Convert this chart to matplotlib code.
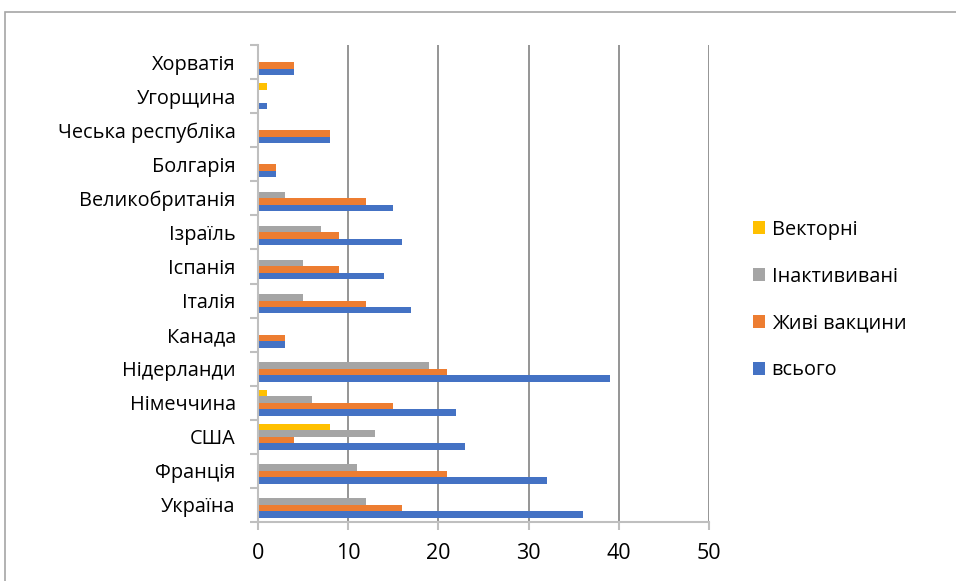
import matplotlib.pyplot as plt
import numpy as np
from matplotlib.patches import Rectangle

countries = ["Україна", "Франція", "США", "Німеччина", "Нідерланди", "Канада",
             "Італія", "Іспанія", "Ізраїль", "Великобританія", "Болгарія",
             "Чеська республіка", "Угорщина", "Хорватія"]
total = [36, 32, 23, 22, 39, 3, 17, 14, 16, 15, 2, 8, 1, 4]
live = [16, 21, 4, 15, 21, 3, 12, 9, 9, 12, 2, 8, 0, 4]
inactivated = [12, 11, 13, 6, 19, 0, 5, 5, 7, 3, 0, 0, 0, 0]
vector = [0, 0, 8, 1, 0, 0, 0, 0, 0, 0, 0, 0, 1, 0]

series = [
    ("всього", total, "#4472C4"),
    ("Живі вакцини", live, "#ED7D31"),
    ("Інактививані", inactivated, "#A5A5A5"),
    ("Векторні", vector, "#FFC000"),
]

plt.rcParams["font.family"] = ["Open Sans", "DejaVu Sans"]

fig = plt.figure(figsize=(9.56, 5.81), dpi=100)
ax = fig.add_axes([258 / 956, 1 - 522 / 581, 451 / 956, 477 / 581])

y = np.arange(len(countries))
h = 0.19
handles = []
for i, (name, vals, color) in enumerate(series):
    b = ax.barh(y + (i - 1.5) * h, vals, height=h, color=color, label=name)
    handles.append(b)

ax.set_xlim(0, 50)
ax.set_ylim(-0.5, len(countries) - 0.5)
ax.set_xticks(range(0, 51, 10))
ax.set_yticks(y)
ax.set_yticklabels(countries)
ax.set_yticks(np.arange(-0.5, len(countries), 1), minor=True)
ax.tick_params(axis="y", which="major", length=0, pad=16, labelsize=14.3)
ax.tick_params(axis="y", which="minor", length=6, color="#BFBFBF", width=1.5)
ax.tick_params(axis="x", length=6, color="#BFBFBF", width=1.5, labelsize=15.5, pad=9)

ax.grid(axis="x", color="#8C8C8C", linewidth=1.3)
ax.set_axisbelow(True)
for side in ["top", "right"]:
    ax.spines[side].set_visible(False)
for side in ["left", "bottom"]:
    ax.spines[side].set_color("#BFBFBF")
    ax.spines[side].set_linewidth(1.5)

leg = fig.legend(handles=handles[::-1], loc="center left",
                 bbox_to_anchor=(735 / 956, 1 - 300 / 581), frameon=False,
                 fontsize=14.3, handlelength=0.6, handleheight=0.6,
                 handletextpad=0.35, labelspacing=1.35)

# outer chart border
fig.patches.append(Rectangle((5 / 956, -0.01), 1.0, 1 - 12 / 581 + 0.01,
                             transform=fig.transFigure, fill=False,
                             edgecolor="#A6A6A6", linewidth=1.2))

fig.savefig("out.png", dpi=100)
